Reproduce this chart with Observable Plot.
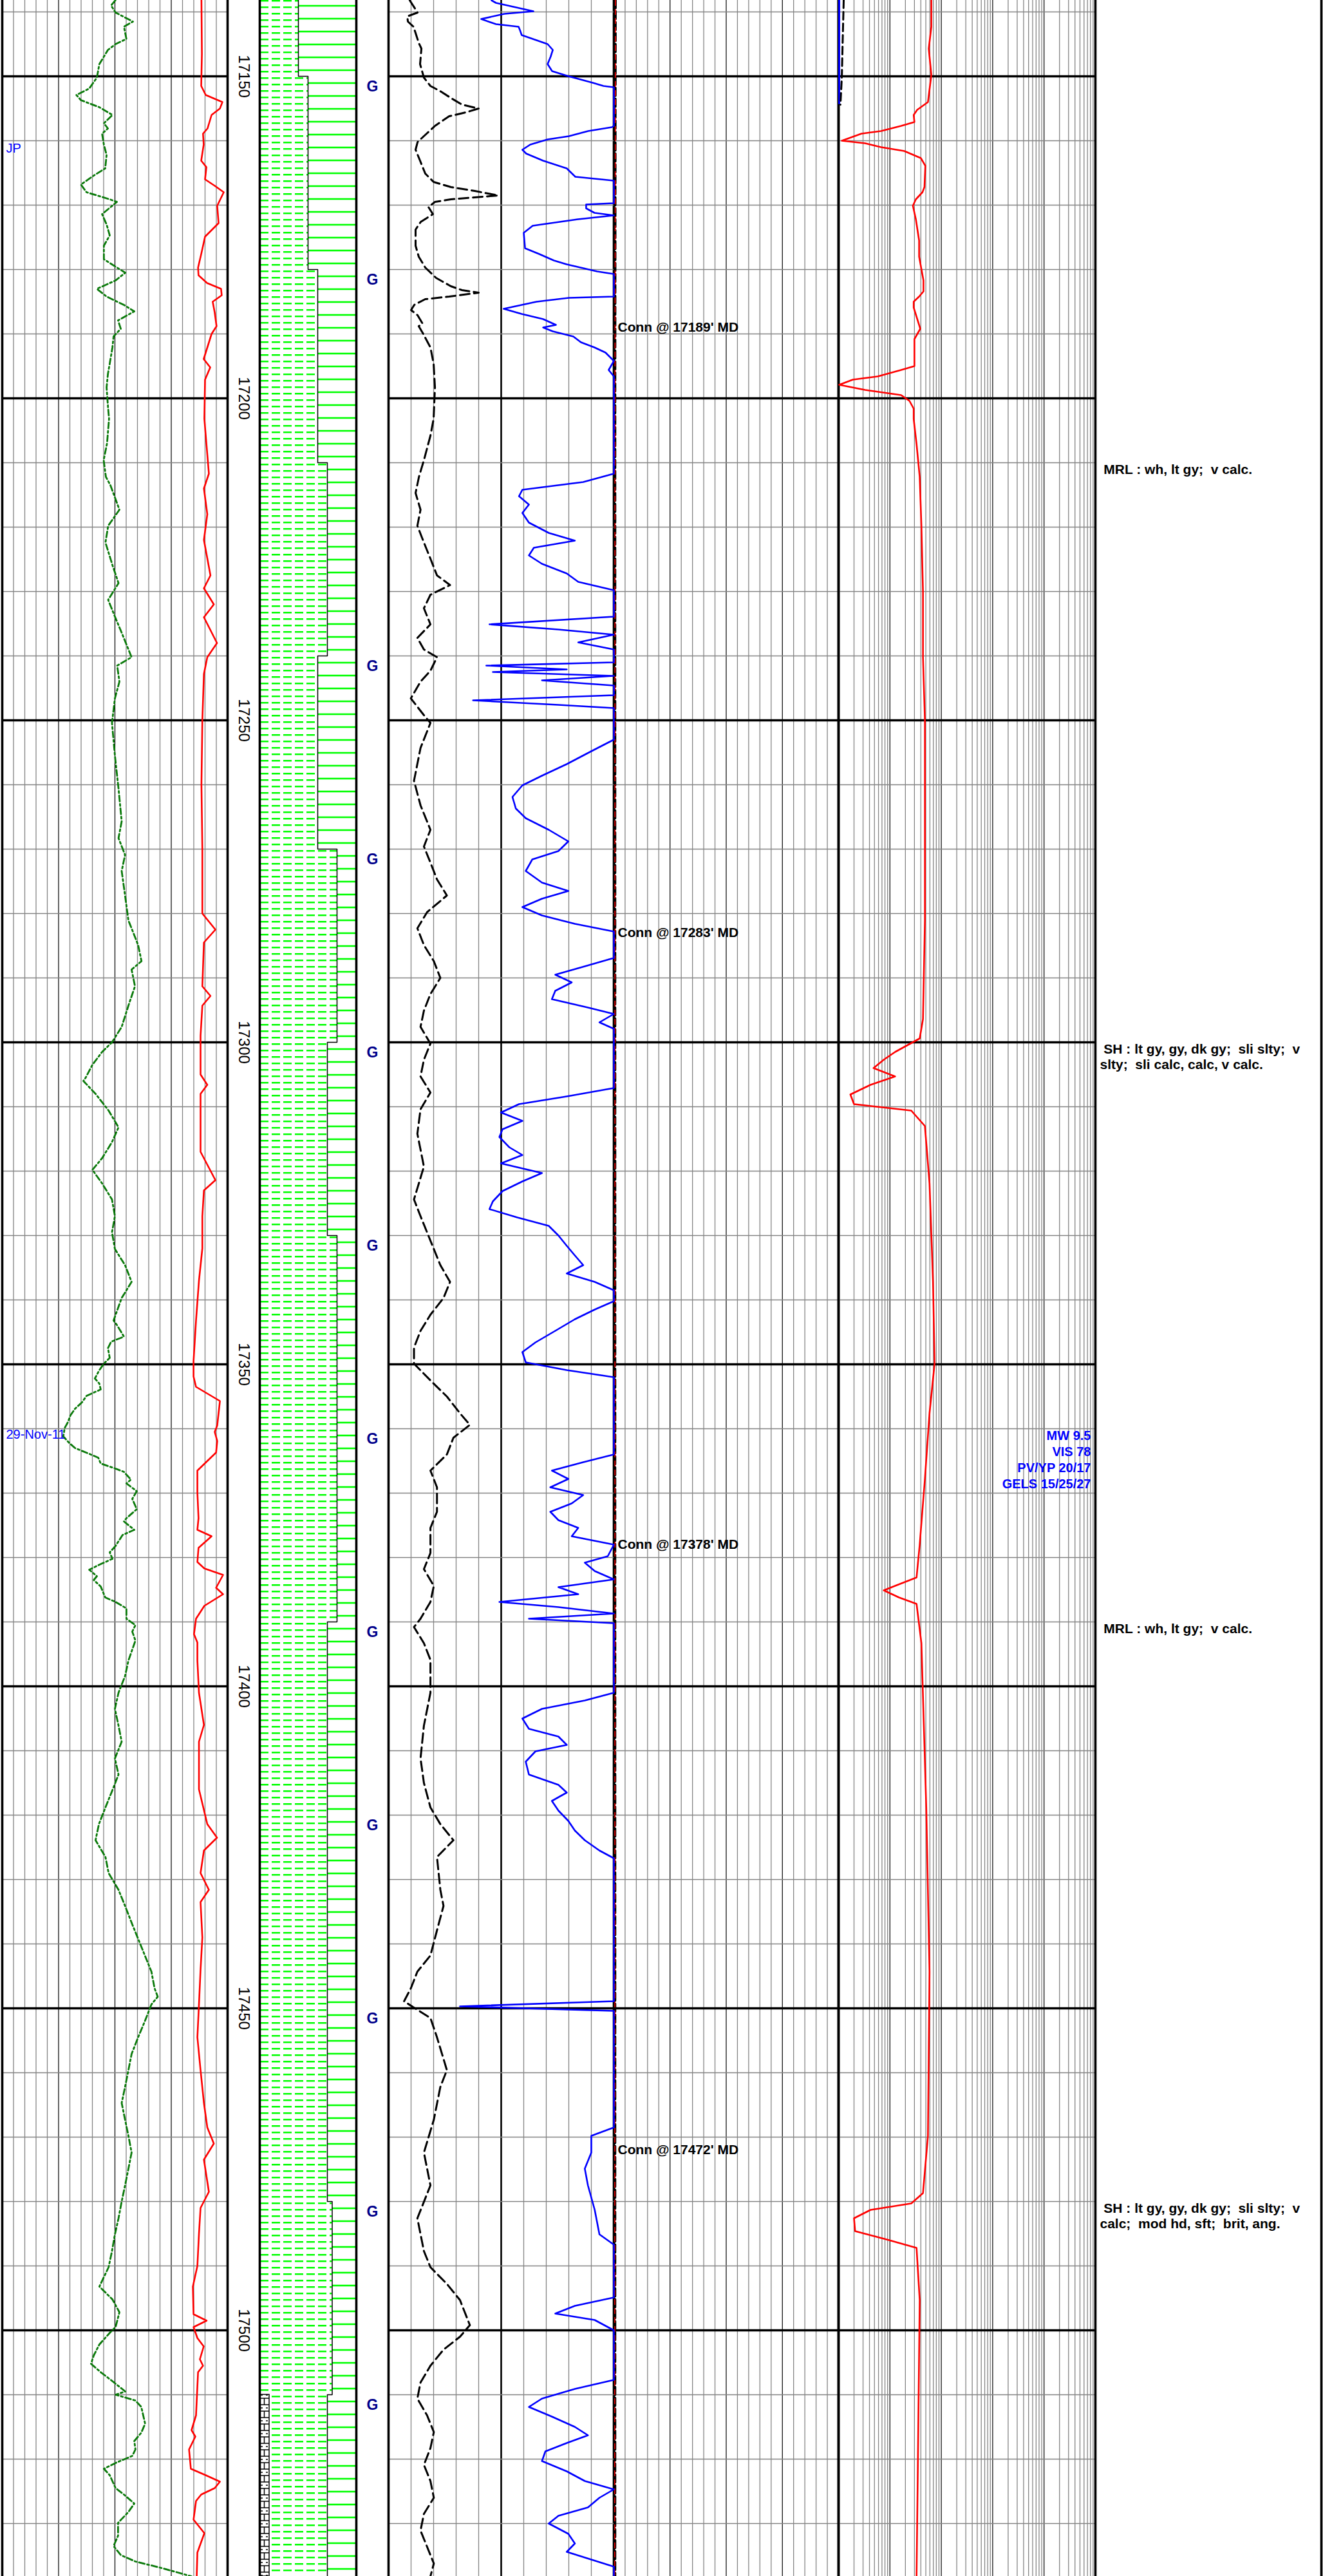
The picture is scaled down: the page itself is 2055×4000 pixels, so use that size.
<!DOCTYPE html>
<html><head><meta charset="utf-8">
<script src="https://cdn.jsdelivr.net/npm/d3@7"></script>
<script src="https://cdn.jsdelivr.net/npm/@observablehq/plot@0.6"></script>
<style>
html,body{margin:0;padding:0;background:#fff}
#chart{position:relative;width:2055px;height:4000px;overflow:hidden;background:#fff}
#chart > svg{position:absolute;top:0}
#chart text{white-space:pre}
</style></head>
<body>
<svg width="0" height="0" style="position:absolute">
<defs>
<pattern id="shalePat" patternUnits="userSpaceOnUse" x="1" y="0" width="18" height="10">
<line x1="0" y1="1.2" x2="13" y2="1.2" stroke="#00ff00" stroke-width="2.6"/>
</pattern>
<pattern id="marlPat" patternUnits="userSpaceOnUse" x="0" y="0" width="20" height="20">
<line x1="0" y1="9" x2="20" y2="9" stroke="#00ff00" stroke-width="2.6"/>
</pattern>
<pattern id="limePat" patternUnits="userSpaceOnUse" x="0" y="0" width="15" height="20">
<line x1="0" y1="4" x2="15" y2="4" stroke="#000" stroke-width="1.5"/>
<line x1="0" y1="14" x2="15" y2="14" stroke="#000" stroke-width="1.5"/>
<line x1="7.5" y1="4" x2="7.5" y2="14" stroke="#000" stroke-width="1.5"/>
<line x1="2" y1="19" x2="5" y2="19" stroke="#000" stroke-width="1.5"/>
<line x1="10" y1="19" x2="13" y2="19" stroke="#000" stroke-width="1.5"/>
</pattern>
</defs>
</svg>
<div id="chart"></div>
<script>
// ---------- depth frame ----------
const TOP = 17138.2, BOTTOM = 17538.2;
const majorDepths = [17150, 17200, 17250, 17300, 17350, 17400, 17450, 17500];
const minorDepths = d3.range(17140, 17531, 10);

// ---------- track 1 (ROP style curves) ----------
const ropGreen = [[17138.2,50.2],[17139.0,48.3],[17140.1,50.3],[17141.5,58.0],[17142.3,54.0],[17144.2,55.1],[17145.0,50.3],[17145.9,46.9],[17148.1,43.1],[17150.2,42.0],[17151.9,38.6],[17152.9,32.9],[17153.7,34.9],[17154.8,43.1],[17156.0,48.9],[17157.3,45.1],[17158.1,46.9],[17158.9,44.3],[17160.6,45.1],[17162.2,46.3],[17164.3,45.7],[17165.3,41.1],[17166.8,34.9],[17168.0,37.4],[17169.1,47.7],[17169.5,50.9],[17171.4,44.3],[17173.0,46.3],[17174.7,47.7],[17176.3,45.1],[17178.4,45.1],[17179.7,50.9],[17180.5,54.6],[17181.7,50.3],[17183.0,42.0],[17184.2,46.3],[17185.5,54.0],[17186.5,58.6],[17187.9,51.4],[17189.2,52.6],[17190.4,49.4],[17192.1,48.9],[17194.6,47.7],[17196.2,46.9],[17198.3,46.3],[17201.2,46.9],[17203.2,47.4],
[17207,46.5],[17209.6,45],[17212.2,46],[17213.5,48],[17217.3,52],[17219.8,47],[17222.4,45.8],[17226,49],[17228.7,51.6],[17231.3,47],[17233.9,50],[17236.4,53],[17239,56],[17240.2,57.4],[17241.5,51],[17244,52],[17246.6,50],[17250.4,48.7],[17255.5,50],[17260.6,51.6],[17265.7,53],[17268.3,51.6],[17270.9,54.5],[17273.4,53],[17277.2,54.5],[17281.1,56],[17282.3,57.4],[17284.9,60.3],[17287.4,61.8],[17288.7,57.4],[17291.3,58.9],[17294.3,56],[17297.6,53],[17300,48.7],[17301.5,44.3],[17303.5,40],[17305.5,37],[17306,36],[17308,41.4],[17310.6,47.2],[17313.2,51.6],[17315.5,48.7],[17318,44.3],[17319.8,40],[17321.9,44.3],[17324.4,48.7],[17327,50],[17329.5,48.7],[17332.1,50],[17334.6,54.5],[17337.2,57.4],[17339.7,53],
[17343.2,49.4],[17343.9,50.9],[17345.7,54],[17346.5,48.3],[17347.5,46.9],[17349,47.7],[17349.9,45.1],[17350.9,43.1],[17352.2,41.1],[17353,43.1],[17353.9,43.7],[17354.9,37.4],[17355.9,35.4],[17356.9,32.3],[17357.9,30.3],[17359,29.1],[17359.9,27.7],[17361.2,27.1],[17362.2,29.7],[17363,32.3],[17363.9,38.6],[17364.5,42.6],[17365.4,43.7],[17366.2,50.3],[17366.7,54],[17367.9,57.1],[17368.5,55.1],[17369.7,59.7],[17370.9,57.7],[17372.5,59.7],[17373.9,55.1],[17374.4,54],[17375.7,58.6],[17376.5,53.4],[17378.2,50.3],[17379.2,47.7],[17380.2,48.9],[17381.2,42.6],[17381.9,38.6],[17382.9,42],[17383.5,40.6],[17384.5,43.7],[17386.2,45.7],[17386.9,50.3],[17387.9,55.1],[17389.5,55.1],[17390.5,59.1],[17391.5,57.7],[17392.9,59.1],
[17394.6,57.4],[17396,56],[17398.4,54.5],[17401,51.6],[17403.5,50],[17406.1,51.6],[17408.6,53],[17411.2,50],[17413.7,51.6],[17416.3,48.7],[17418.8,45.8],[17421.4,42.9],[17423.9,41.4],[17426.5,45.8],[17429,47.2],[17431.6,51.6],[17434.1,54.5],[17436.7,57.4],[17439.2,60.3],[17441.8,63.3],[17444.3,66.2],[17446.9,67.6],[17448.2,69],[17449.4,66.2],[17452,63.3],[17454.5,60.3],[17457.1,57.4],[17459.6,56],[17462.2,54.5],[17464.7,53],[17467.3,54.5],[17469.8,56],[17472.4,57.4],[17474.9,56],[17477.5,54.5],[17480,53],[17482.6,51.6],[17485.1,50],[17487.7,48.7],[17490.2,47.2],
[17493.2,43.1],[17495.2,48.9],[17497.2,52],[17499.5,50.3],[17500.4,47.7],[17502.2,43.1],[17503.9,40.6],[17505.2,39.4],[17506.5,43.7],[17507.9,48.9],[17509.5,54.6],[17510,50.3],[17510.9,59.1],[17511.9,61.7],[17514.5,63.4],[17515.9,61.7],[17517.2,58.6],[17518.5,59.1],[17519.5,57.7],[17520.5,50.9],[17521.5,45.1],[17522.5,47.7],[17524.5,50.3],[17525.5,54],[17526.9,58.6],[17528.2,56],[17529.9,51.4],[17531.9,51.4],[17533.5,49.4],[17534.9,52.6],[17535.9,59.1],[17536.9,70.6],[17537.9,80.9],[17538.2,84]];

const track1Red = [[17138.2,88.4],[17146.5,88.6],[17151.5,88.3],[17152.9,90.3],[17154,97.7],[17155,96.6],[17156,92.9],[17158.1,91.1],[17158.9,89.1],[17160.6,89.4],[17163.1,88.3],[17164.1,90.6],[17166,90],[17167,94.3],[17168,98.3],[17170.1,95.4],[17172.8,96],[17174.9,90],[17177.6,88.3],[17179.7,86.9],[17180.9,87.1],[17182.1,90.9],[17183,97.1],[17184,97.4],[17185,93.4],[17186.7,94.3],[17188.8,95.1],[17190,92.9],[17193.9,89.4],[17195.2,92.3],[17197.1,90],[17203.2,89.7],
[17211.7,91.7],[17214,89.5],[17218,91],[17222,89.5],[17227.5,92.4],[17229.5,89.5],[17232,93.9],[17234,89.5],[17238,95.3],[17240.2,91],[17242.8,89.5],[17250,88.8],[17260,88.4],[17270,88.8],[17280,88.8],[17282.5,94.6],[17284.5,89.5],[17291.3,88.8],[17292.8,92.4],[17294.3,88.8],[17299,88],[17305,88],[17306.6,91],[17308,88],[17317,88],[17321.4,94.6],[17323,89.5],[17327,88.8],[17332,88.8],[17337,87.3],
[17343.2,86],[17349.5,84.9],[17351.9,84.9],[17353.5,86],[17355.7,96.6],[17359.5,95.4],[17360.5,94.3],[17361.9,95.4],[17363.7,94.9],[17366.5,86.6],[17369.9,86.6],[17373.9,87.1],[17375.7,86.6],[17376.7,92.9],[17378.5,87.1],[17380.7,86.6],[17381.7,89.7],[17382.7,98],[17384.7,94.9],[17385.7,98],[17387.5,89.7],[17389.5,86],[17391.9,85.1],[17393.2,86.6],
[17396,86.6],[17401,87.3],[17406,89.5],[17408.6,87.3],[17416,87.3],[17421.4,91],[17423.5,95.3],[17425.5,89.5],[17429,88],[17431.6,91.7],[17433.5,88],[17439,88.8],[17444,88],[17449.4,87.3],[17454.5,86.6],[17459.6,88],[17464.7,89.5],[17468.5,91],[17471,93.9],[17473.5,89.5],[17478.5,91.7],[17481,88],[17485,87.3],[17490,86.6],
[17493.2,84.6],[17497.5,84.9],[17498.5,90.7],[17499.5,84.9],[17501.2,86.6],[17502.5,89.4],[17504.5,87.7],[17505.5,89.1],[17506.5,86.9],[17513.2,86],[17515.5,84],[17516.5,85.7],[17518.5,82.9],[17521.5,83.7],[17522.5,90.3],[17523.5,96.6],[17524.5,94.3],[17525.5,88.3],[17526.5,86],[17529.4,84.9],[17531.5,89.7],[17534.5,86.6],[17538.2,86.3]];

// ---------- track 3 (gas) ----------
const gasBlack = [[17138.2,9.4],[17140.1,12.9],[17140.7,8.3],[17141.5,8.6],[17142.3,11.1],[17144.8,13.4],[17145.7,14.6],[17148.1,14],[17150.2,15.7],[17151.5,18.6],[17152.3,22.9],[17153.5,28.3],[17154.4,32.6],[17155,40],[17155.6,34.3],[17156.2,26.9],[17157.7,20.6],[17158.9,16.9],[17160.2,12.9],[17161.4,12],[17163.1,14],[17165.1,16.3],[17166.4,20],[17167.2,27.7],[17167.8,38.3],[17168.5,48.6],[17169.1,27.7],[17169.5,20.6],[17170.3,17.7],[17171.4,19.7],[17172.6,14.3],[17173.8,12],[17176.3,12],[17178,13.4],[17179.7,16.3],[17181.3,21.1],[17182.6,27.7],[17183.2,32.6],[17183.6,40],[17184.2,26.9],[17184.6,16.3],[17185.5,11.4],[17186.3,10],[17187.1,12.9],[17188.4,15.1],[17188.8,13.4],[17190,15.4],[17192.1,18.6],[17194.6,20],[17198.3,20.6],[17203.2,20],
[17205.8,18.6],[17209.6,15.7],[17212.2,13.5],[17214.7,12],[17217.3,14.2],[17219.8,12.8],[17222.4,15.7],[17224.9,18.6],[17227.5,21.5],[17229,27.3],[17230.5,18.6],[17232.6,15.7],[17235.1,18.6],[17237.2,12.8],[17239,15.7],[17240.2,21.5],[17242.3,18.6],[17244,14.2],[17246.6,9.9],[17249.2,15.7],[17250.4,18.6],[17254.3,14.2],[17259.4,11.3],[17263.2,14.2],[17267,18.6],[17269.6,15.7],[17272.1,18.6],[17274.7,21.5],[17277.2,25.9],[17279.8,17.1],[17282.3,12.8],[17284.9,15.7],[17287.4,20.1],[17290,23],[17292.5,18.6],[17295.1,15.7],[17297.6,14.2],[17300.2,18.6],[17302.7,15.7],[17305.3,14.2],[17307.8,18.6],[17310.4,14.2],[17314.2,12.8],[17319.3,15.7],[17324.4,11.3],[17327,14.2],[17330.8,18.6],[17334.6,23],[17337.2,27.3],[17339.7,24.4],[17342.3,18.6],[17344.8,14.2],[17347.4,11.3],[17349.9,11.3],[17352.5,18.6],[17355,25.9],[17357.6,31.7],[17359.4,36.1],[17361.4,28.8],[17364,25.9],[17366.5,18.6],[17369.1,21.5],[17372.9,21.5],[17375.4,18.6],[17379.3,18.6],[17381.8,15.7],[17384.4,20.1],[17386.9,18.6],[17389.5,14.2],[17390.8,11.3],[17393.3,15.7],[17395.9,18.6],[17401,18.6],[17406.1,15.7],[17411.2,14.2],[17415,15.7],[17418.8,18.6],[17421.4,23],[17423.9,28.8],[17426.5,21.5],[17431.6,23],[17434.1,24.4],[17437.9,21.5],[17441.8,18.6],[17444.3,12.8],[17446.9,9.9],[17448.9,6.9],[17449.9,11.3],[17451.5,18.6],[17454.5,21.5],[17459.6,25.9],[17462.2,23],[17467.3,20.1],[17472.4,15.7],[17477.5,18.6],[17482.6,12.8],[17487.7,15.7],[17490.2,18.6],[17492.8,25.9],[17495.3,31.7],[17499.2,36.1],[17501,31.7],[17503,24.4],[17505.5,18.6],[17508.1,14.2],[17510.6,12.8],[17513.2,17.1],[17515.8,20.1],[17518.3,18.6],[17520.9,15.7],[17523.4,18.6],[17526,20.1],[17528.5,15.7],[17531.1,14.2],[17533.6,17.1],[17536.2,20.1],[17538.2,18.6]];

const gasBlue = [[17138.2,45.7],[17138.6,47.7],[17139.9,64.3],[17140.3,51.4],[17141.1,41.1],[17141.9,47.7],[17142.3,57.7],[17142.8,58.3],[17143.6,59.1],[17144.4,65.7],[17145,70.6],[17145.9,72.9],[17146.9,72],[17148.1,70.6],[17149.2,72.6],[17150,80],[17151,90.6],[17151.5,95.4],[17151.7,100],[17157.7,100],[17157.9,99.1],[17158.5,88.6],[17159.3,80],[17159.8,70.6],[17160.6,62.9],[17161.4,59.4],[17162,61.1],[17163.1,68.6],[17164.3,79.1],[17165.6,82.9],[17166.2,100],[17169.7,100],[17169.9,87.7],[17170.5,87.7],[17171.2,91.4],[17171.6,100],[17172.2,84],[17173.2,64],[17174.3,60],[17176.7,60.6],[17177.6,66.9],[17178.6,73.4],[17179.2,79.1],[17180.3,92.6],[17180.7,100],[17184.2,100],[17184.4,80],[17185,65.7],[17186.1,51.1],[17186.9,59.1],[17187.7,68.6],[17188.6,74.3],[17189,68.6],[17189.6,72.9],[17190.4,82],[17191.3,85.4],[17192.1,91.4],[17192.9,96.3],[17194.2,100],[17195.6,97.7],[17196.6,100],
[17211.7,100],[17213,86.4],[17214.2,59.4],[17215.2,57.9],[17216.5,62.3],[17217.8,59.4],[17219.3,62.3],[17220.9,71.1],[17222.1,82.7],[17223.2,64.5],[17224.4,62.3],[17225.7,68.1],[17227.2,79.1],[17228.5,84.2],[17229.8,100],[17233.9,100],[17235.1,44.8],[17235.9,75.4],[17236.7,100],[17237.9,84.2],[17239,100],[17241,100],[17241.5,43.4],[17242.1,79.1],[17242.5,46.3],[17243.1,100],[17243.8,68.1],[17244.6,100],[17246.1,100],[17246.9,37.5],[17247.6,75.4],[17248.1,100],[17253,100],[17254.8,90],[17256.8,79.1],[17258.6,68.1],[17260.1,59.4],[17261.9,55],[17263.7,56.5],[17265.2,60.9],[17267,71.1],[17268.8,79.8],[17270.3,75.4],[17271.6,63.8],[17273.4,60.9],[17275.2,68.1],[17276.5,79.8],[17277.7,68.1],[17279,59.4],[17280.3,68.1],[17281.6,82.7],[17282.8,100],[17286.9,100],[17288.2,87.1],[17289.5,74],[17290.7,81.3],[17292,74],[17293.3,72.5],[17294.6,88.5],[17295.6,100],[17296.9,93.6],[17297.9,100],[17307.1,100],[17308.4,79.1],[17309.6,57.9],[17310.9,49.9],[17312.2,59.4],[17313.5,50.6],[17314.7,49.2],[17316.3,53.6],[17317.5,59.4],[17318.8,49.9],[17320.3,68.1],[17321.6,59.4],[17323.1,50.6],[17324.7,46.3],[17325.9,44.8],[17327.2,57.2],[17328.5,71.1],[17330,75.4],[17331.6,79.1],[17333.1,82.7],[17334.6,86.4],[17335.9,79.1],[17337.2,91.5],[17338.5,100],[17340.2,100],[17341.5,91.5],[17343,82.7],[17344.8,74],[17346.6,65.2],[17348.1,59.4],[17349.7,60.9],[17350.9,79.1],[17352,100],[17364,100],[17365.2,86.4],[17366.5,72.5],[17367.8,79.8],[17369.1,71.8],[17370.3,86.4],[17371.6,81.3],[17372.9,71.8],[17374.2,75.4],[17375.4,84.2],[17376.7,81.3],[17378,100],[17379.8,97.3],[17380.8,87.1],[17382.1,91.5],[17383.4,100],[17384.6,75.4],[17385.7,84.2],[17386.9,49.2],[17387.7,75.4],[17388.7,100],[17389.5,62.3],[17390.2,100],[17401,100],[17402.2,87.1],[17403.5,68.1],[17405,59.4],[17406.6,62.3],[17407.8,75.4],[17409.1,79.1],[17410.1,65.2],[17411.7,60.9],[17413.7,62.3],[17415.3,75.4],[17416.5,79.1],[17417.8,72.5],[17419.3,75.4],[17420.9,79.8],[17422.4,82.7],[17423.9,87.1],[17425.5,93.6],[17426.7,100],[17448.9,100],[17449.7,31.7],[17450.4,100],[17468.5,100],[17469.8,90],[17472.4,90],[17474.9,87.1],[17477.5,88.5],[17481.3,91.5],[17485.1,93.6],[17486.7,100],[17494.9,100],[17496.2,82.7],[17497.4,74],[17498.4,91.5],[17500,100],[17507.7,100],[17509.1,82.7],[17510.6,68.1],[17511.9,62.3],[17513.4,72.5],[17515,82.7],[17516.3,88.5],[17517.5,79.1],[17518.8,69.6],[17520.3,68.1],[17521.9,79.1],[17523.4,87.1],[17524.7,100],[17526,93.6],[17527.5,88.5],[17528.8,75.4],[17530,71.1],[17531.6,79.8],[17533.1,82.7],[17534.4,79.1],[17535.6,90],[17536.7,100],[17538.2,100]];

// ---------- track 4 (near-zero curves) ----------
const t4Black = [[17138.2,0.7],[17165,0.6],[17200,0.5],[17300,0.5],[17450,0.5],[17538.2,0.5]];
const t4Red = [[17138.2,0.7],[17200,0.5],[17400,0.5],[17538.2,0.4]];

// ---------- track 5 (log) ----------
const logRed = [[17138.2,64],[17142.3,64],[17145.7,57],[17149.8,64],[17154,55],[17155.2,34],[17156,29],[17157.1,30],[17157.7,16.5],[17158.5,6.7],[17158.9,2.8],[17160,1.16],[17160.4,3.3],[17161,6.7],[17161.6,19],[17162.7,40],[17163.9,49],[17167.2,47],[17168,43],[17169.1,32],[17170.1,28],[17172.2,32],[17175.5,37],[17178,37],[17181.7,45],[17183.4,45],[17184.2,37],[17185,29],[17185.9,29],[17189.2,39],[17190.8,30],[17195,30],[17195.6,16.5],[17196.6,5.8],[17197.1,1.9],[17197.9,1.03],[17198.7,3.3],[17199.5,16.5],[17200.4,24],[17201.6,29],[17203.2,29],
[17207.1,33],[17212.2,38],[17219.8,41],[17230,44],[17240.2,44],[17250,48],[17265.7,48],[17281.1,48],[17296.4,44],[17299.4,38],[17301.5,12.6],[17302.7,7.6],[17304,4.8],[17305.3,12.6],[17306.6,4.2],[17308.1,1.7],[17309.6,2.0],[17310.6,26],[17313,48],[17321.9,59],[17337.2,69],[17349.9,74],[17357.6,59],[17367.8,48],[17378,38],[17383.1,33],[17384.4,12.6],[17385.1,7.6],[17386.2,15],[17387.2,33],[17393.3,41],[17418.8,51],[17444.3,59],[17469.8,55],[17478.7,44],[17480.3,26],[17481.3,4.2],[17482.6,2.0],[17484.6,2.1],[17485.9,8.7],[17487.2,33],[17495.3,38],[17520.9,35],[17538.2,33]];
const logBlue = [[17138.2,1.03],[17154.2,1.03]];
const logBlack = [[17138.2,1.26],[17145,1.2],[17150,1.16],[17154.4,1.09]];

// ---------- lithology (percent of column) ----------
const lithTop   = [17138.2,17150,17180,17210,17240,17270,17300,17330,17360,17390,17420,17450,17480,17510];
const lithBase  = [17150,17180,17210,17240,17270,17300,17330,17360,17390,17420,17450,17480,17510,17538.2];
const limePct   = [0,0,0,0,0,0,0,0,0,0,0,0,0,10];
const shalePct  = [40,50,60,70,60,80,70,80,80,70,70,70,75,70];

// ---------- annotations ----------
const depthLabels = [17150,17200,17250,17300,17350,17400,17450,17500];
const gDepths = [17150,17180,17240,17270,17300,17330,17360,17390,17420,17450,17480,17510];
const connDepths = [17189,17283,17378,17472];
const descDepths = [17210,17300,17390,17480];
const descTexts = [
  " MRL : wh, lt gy;  v calc.",
  " SH : lt gy, gy, dk gy;  sli slty;  v\nslty;  sli calc, calc, v calc.",
  " MRL : wh, lt gy;  v calc.",
  " SH : lt gy, gy, dk gy;  sli slty;  v\ncalc;  mod hd, sft;  brit, ang."
];
const mudDepth = 17360;
const mudText = ["MW 9.5","VIS 78","PV/YP 20/17","GELS 15/25/27"];
const noteDepths = [17161.2, 17360.9];
const noteTexts = ["JP", "29-Nov-11"];

// ---------- build ----------
const H = 4000;
const FONT = "Liberation Sans, Arial, Helvetica, sans-serif";
const Y = {domain: [TOP, BOTTOM], reverse: true, axis: null};
const chart = document.getElementById("chart");
const lithRows = lithTop.map((t, i) => ({top: t, base: lithBase[i], lime: limePct[i], shale: shalePct[i]}));
const GRAY = "#858585";

function mount(svg, left) { svg.style.left = left + "px"; chart.appendChild(svg); }
function base(o) {
  return Object.assign({height: H, marginTop: 0, marginBottom: 0, y: Y,
    style: {background: "transparent", overflow: "visible", position: "absolute", top: "0px"}}, o);
}
const hGrid = () => [
  Plot.ruleY(minorDepths, {stroke: GRAY, strokeWidth: 1.4}),
  Plot.ruleY(majorDepths, {stroke: "#000", strokeWidth: 3.6})
];
const X = d => d[1], D = d => d[0];

// Track 1
const minor20 = d3.range(5, 100, 5).filter(v => v % 25 !== 0);
const major20 = [25, 50, 75];
const t1 = Plot.plot(base({
  width: 356, marginLeft: 3, marginRight: 3,
  x: {domain: [0, 100], axis: null},
  marks: [
    Plot.ruleX(minor20, {stroke: GRAY, strokeWidth: 1.3}),
    Plot.ruleX(major20, {stroke: "#000", strokeWidth: 1.2}),
    ...hGrid(),
    Plot.ruleX([0, 100], {stroke: "#000", strokeWidth: 3.6}),
    Plot.line(ropGreen, {x: X, y: D, stroke: "#0b7a0b", strokeWidth: 2.8, strokeDasharray: "9,4,3,4"}),
    Plot.line(track1Red, {x: X, y: D, stroke: "#ff0000", strokeWidth: 2.6}),
    Plot.text(noteTexts, {y: (d, i) => noteDepths[i], text: d => d, frameAnchor: "left", textAnchor: "start", dx: 6,
      fill: "#0000ff", fontSize: 20, fontFamily: FONT})
  ]
}));
mount(t1, 0);

// Depth column
const dcol = Plot.plot(base({
  width: 50, marginLeft: 0, marginRight: 0, x: {domain: [0, 1], axis: null},
  marks: [Plot.text(depthLabels, {y: d => d, text: d => String(d), frameAnchor: "middle", rotate: 90,
    fontSize: 24, fontFamily: FONT, fill: "#000"})]
}));
mount(dcol, 353);

// Lithology column
const lith = Plot.plot(base({
  width: 150, marginLeft: 0, marginRight: 0, x: {domain: [0, 100], axis: null},
  marks: [
    Plot.rect(lithRows, {x1: "shale", x2: 100, y1: "top", y2: "base", fill: "url(#marlPat)"}),
    Plot.rect(lithRows, {x1: "lime", x2: "shale", y1: "top", y2: "base", fill: "url(#shalePat)"}),
    Plot.rect(lithRows.filter(r => r.lime > 0), {x1: 0, x2: "lime", y1: "top", y2: "base", fill: "url(#limePat)", stroke: "#000", strokeWidth: 1.5}),
    Plot.line(lithRows.flatMap(r => [[r.top, r.shale], [r.base, r.shale]]), {x: X, y: D, stroke: "#000", strokeWidth: 1.5}),
    Plot.ruleX([0, 100], {stroke: "#000", strokeWidth: 3.6})
  ]
}));
mount(lith, 403);

// G column
const gcol = Plot.plot(base({
  width: 50, marginLeft: 0, marginRight: 0, x: {domain: [0, 1], axis: null},
  marks: [Plot.text(gDepths, {y: d => d, text: () => "G", frameAnchor: "middle", lineAnchor: "top", dy: 7,
    fontSize: 23, fontWeight: "bold", fontFamily: FONT, fill: "#00008b"})]
}));
mount(gcol, 553);

// Track 4 (linear, 20 divisions)
const t4 = Plot.plot(base({
  width: 349, marginLeft: 0, marginRight: 0, x: {domain: [0, 100], axis: null},
  marks: [
    Plot.ruleX(minor20, {stroke: GRAY, strokeWidth: 1.3}),
    Plot.ruleX(major20, {stroke: "#000", strokeWidth: 1.2}),
    ...hGrid(),
    Plot.ruleX([0, 100], {stroke: "#000", strokeWidth: 3.6}),
    Plot.line(t4Black, {x: X, y: D, stroke: "#000", strokeWidth: 4, strokeDasharray: "12,5"}),
    Plot.line(t4Red, {x: X, y: D, stroke: "#ff0000", strokeWidth: 1.5, strokeDasharray: "8,6"}),
    Plot.text(connDepths, {y: d => d, text: d => `Conn @ ${d}' MD`, frameAnchor: "left", textAnchor: "start", dx: 6,
      fontSize: 21, fontWeight: "bold", fontFamily: FONT, fill: "#000"})
  ]
}));
mount(t4, 953);

// Track 3 (gas, 10 divisions)
const t3 = Plot.plot(base({
  width: 350, marginLeft: 0, marginRight: 0, x: {domain: [0, 100], axis: null},
  marks: [
    Plot.ruleX([10, 20, 30, 40, 60, 70, 80, 90], {stroke: GRAY, strokeWidth: 1.3}),
    Plot.ruleX([50], {stroke: "#000", strokeWidth: 2.6}),
    ...hGrid(),
    Plot.ruleX([0], {stroke: "#000", strokeWidth: 3.6}),
    Plot.line(gasBlack, {x: X, y: D, stroke: "#000", strokeWidth: 3, strokeDasharray: "15,7"}),
    Plot.line(gasBlue, {x: X, y: D, stroke: "#0000ff", strokeWidth: 2.6})
  ]
}));
mount(t3, 603);

// Track 5 (log, 5 decades)
const decades = [10, 100, 1000, 10000];
const logMinor = [1, 10, 100, 1000, 10000].flatMap(p => [2, 3, 4, 5, 6, 7, 8, 9].map(k => k * p));
const t5 = Plot.plot(base({
  width: 399, marginLeft: 0, marginRight: 0, x: {type: "log", domain: [1, 100000], axis: null},
  marks: [
    Plot.ruleX(logMinor, {stroke: GRAY, strokeWidth: 1.3}),
    Plot.ruleX(decades, {stroke: "#000", strokeWidth: 1.2}),
    ...hGrid(),
    Plot.ruleX([1, 100000], {stroke: "#000", strokeWidth: 3.6}),
    Plot.line(logBlue, {x: X, y: D, stroke: "#0000ff", strokeWidth: 3}),
    Plot.line(logBlack, {x: X, y: D, stroke: "#000", strokeWidth: 3, strokeDasharray: "12,6"}),
    Plot.line(logRed, {x: X, y: D, stroke: "#ff0000", strokeWidth: 2.6}),
    Plot.text([mudText.join("\n")], {y: () => mudDepth, text: d => d, frameAnchor: "right", textAnchor: "end", dx: -7,
      lineAnchor: "top", lineHeight: 1.25, fontSize: 20, fontWeight: "bold", fontFamily: FONT, fill: "#0000ff"})
  ]
}));
mount(t5, 1302);

// Description column
const desc = Plot.plot(base({
  width: 354, marginLeft: 0, marginRight: 3, x: {domain: [0, 1], axis: null},
  marks: [
    Plot.ruleX([1], {stroke: "#000", strokeWidth: 3.6}),
    Plot.text(descTexts, {y: (d, i) => descDepths[i], text: d => d, frameAnchor: "left", textAnchor: "start", dx: 7,
      lineAnchor: "top", lineHeight: 1.15, fontSize: 21, fontWeight: "bold", fontFamily: FONT, fill: "#000"})
  ]
}));
mount(desc, 1701);
</script>
</body></html>
